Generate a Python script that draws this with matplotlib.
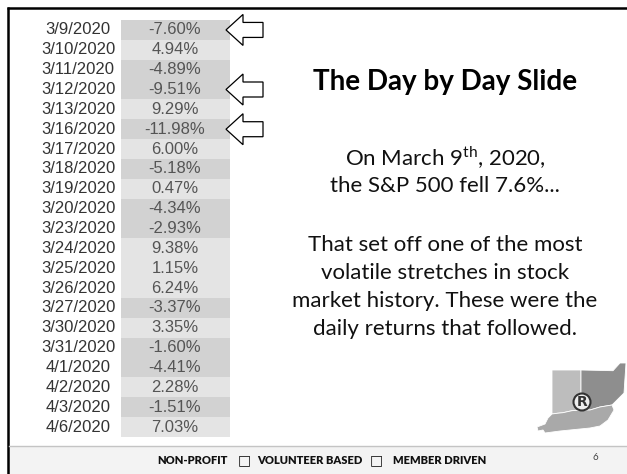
import matplotlib.pyplot as plt
from matplotlib.patches import Polygon, Rectangle, Circle

# dati della tabella (rendimenti giornalieri S&P 500)
date = ['3/9/2020', '3/10/2020', '3/11/2020', '3/12/2020', '3/13/2020', '3/16/2020',
        '3/17/2020', '3/18/2020', '3/19/2020', '3/20/2020', '3/23/2020', '3/24/2020',
        '3/25/2020', '3/26/2020', '3/27/2020', '3/30/2020', '3/31/2020', '4/1/2020',
        '4/2/2020', '4/3/2020', '4/6/2020']
rendimenti = [-7.60, 4.94, -4.89, -9.51, 9.29, -11.98, 6.00, -5.18, 0.47, -4.34, -2.93,
              9.38, 1.15, 6.24, -3.37, 3.35, -1.60, -4.41, 2.28, -1.51, 7.03]
frecce = [0, 3, 5]   # righe indicate con la freccia

titolo = 'The Day by Day Slide'
testo1 = ['On March 9$^{\\mathrm{th}}$, 2020,', 'the S&P 500 fell 7.6%...']
testo2 = ['That set off one of the most', 'volatile stretches in stock',
          'market history. These were the', 'daily returns that followed.']
piede = ['NON-PROFIT', 'VOLUNTEER BASED', 'MEMBER DRIVEN']

plt.rcParams['mathtext.fontset'] = 'custom'
plt.rcParams['mathtext.rm'] = 'Lato'

fig = plt.figure(figsize=(6.27, 4.74), dpi=100, facecolor='white')
ax = fig.add_axes([0, 0, 1, 1])
ax.set_xlim(0, 627)
ax.set_ylim(474, 0)
ax.axis('off')

# tabella
top, bottom = 20, 437
rowh = (bottom - top) / len(date)
ys = [top + rowh * (i + 0.5) for i in range(len(date))]
colori = ['#d2d2d2' if r < 0 else '#e4e4e4' for r in rendimenti]
ax.barh(ys, 109, left=121, height=rowh, color=colori, linewidth=0)
for y, d, r in zip(ys, date, rendimenti):
    ax.text(78, y, d, ha='center', va='center', fontsize=12, family='Liberation Sans', color='#333333')
    ax.text(175, y, '%.2f%%' % r, ha='center', va='center', fontsize=12, family='Liberation Sans', color='#555555')

# frecce
for i in frecce:
    yc = ys[i]
    pts = [(226, yc), (243, yc - 15.5), (243, yc - 7.5), (263, yc - 7.5),
           (263, yc + 7.5), (243, yc + 7.5), (243, yc + 15.5)]
    ax.add_patch(Polygon(pts, closed=True, facecolor='white', edgecolor='black', linewidth=0.9))

# testo a destra
ax.text(445, 82, titolo, ha='center', va='center', fontsize=20, fontweight='bold', family='Lato', color='black')
for k, t in enumerate(testo1):
    ax.text(445, 158 + 28 * k, t, ha='center', va='center', fontsize=16, family='Lato', color='#111111')
for k, t in enumerate(testo2):
    ax.text(445, 245 + 28 * k, t, ha='center', va='center', fontsize=16, family='Lato', color='#111111')

# logo
indiana = [(552, 370), (581, 370), (581, 410), (572, 410.7), (563, 412.7), (557, 413.3), (552, 414)]
ohio = [(581, 370), (613, 370.7), (620, 363), (626, 363), (624, 393), (612, 405),
        (600, 407), (590, 410), (581, 410)]
kentucky = [(552, 414), (557, 413.3), (563, 412.7), (572, 410.7), (581, 410), (590, 410),
            (600, 407), (612, 405), (614, 410), (608, 420), (600, 426), (590, 428),
            (560, 431), (545, 433), (543, 430), (538, 431), (537, 427), (545, 424), (548, 418)]
ax.add_patch(Polygon(indiana, closed=True, facecolor='#bdbdbd', edgecolor='white', linewidth=0.6))
ax.add_patch(Polygon(ohio, closed=True, facecolor='#8e8e8e', edgecolor='white', linewidth=0.6))
ax.add_patch(Polygon(kentucky, closed=True, facecolor='#a9a9a9', edgecolor='white', linewidth=0.6))
ax.add_patch(Circle((582, 402), 8.5, facecolor='#eeeeee', edgecolor='#333333', linewidth=1.5))
ax.text(582, 402.5, 'R', ha='center', va='center', fontsize=10, fontweight='bold', family='DejaVu Sans', color='#333333')

# bordo nero
ax.plot([8, 8], [7, 474], color='black', linewidth=1.8, solid_capstyle='butt')
ax.plot([7, 627], [8, 8], color='black', linewidth=1.8, solid_capstyle='butt')

# piede di pagina
ax.add_patch(Rectangle((9, 446), 618, 28, facecolor='#f3f3f3', edgecolor='none'))
ax.plot([9, 627], [446, 446], color='#c4c4c4', linewidth=1)
for xc, t in zip([192.5, 310, 439.5], piede):
    ax.text(xc, 461, t, ha='center', va='center', fontsize=8, fontweight='heavy', family='Lato', color='#111111')
for xc in [244, 376]:
    ax.text(xc, 460, '\u25a1', ha='center', va='center', fontsize=10, family='DejaVu Sans', color='#111111')
ax.text(595, 457, '6', ha='center', va='center', fontsize=7, family='Lato', color='#444444')

fig.savefig('out.png', dpi=100, facecolor='white')
